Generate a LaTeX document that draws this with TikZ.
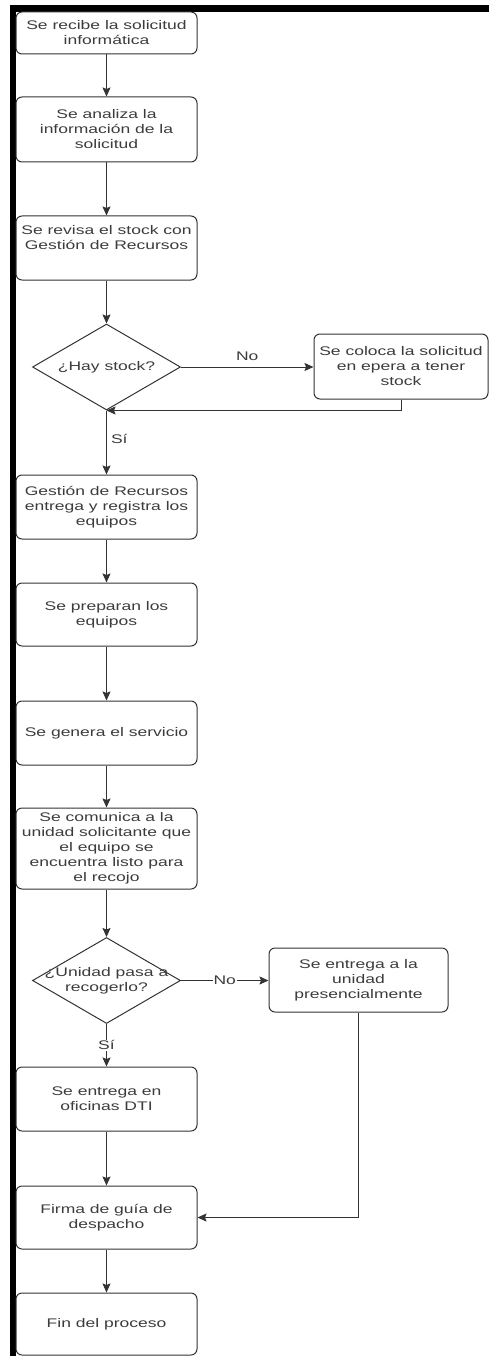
\documentclass[tikz,border=0pt]{standalone}
\usepackage{fontspec}
\newfontfamily\boxfont[FakeStretch=1.40]{Liberation Sans}
\usetikzlibrary{shapes.geometric,arrows.meta}
\definecolor{linegray}{HTML}{333333}
\definecolor{textgray}{HTML}{3C3C3C}
\begin{document}
\begin{tikzpicture}[x=1pt, y=-1pt,
  font=\boxfont\fontsize{12.5}{15}\selectfont, text=textgray,
  proc/.style={draw=linegray, line width=1pt, rounded corners=6pt, align=center,
    minimum width=181pt, inner sep=0pt},
  decision/.style={draw=linegray, line width=1pt, diamond, inner sep=0pt,
    minimum width=148pt, minimum height=86pt},
  flow/.style={draw=linegray, line width=1pt, -{Stealth[length=9pt, width=8pt, inset=1.5pt]}},
  tag/.style={inner sep=1pt, align=center}]
  \useasboundingbox (0,0) rectangle (489,1356);
  % marco negro
  \fill[black] (10,5) rectangle (489,12);
  \fill[black] (10,5) rectangle (16,1356);
  % columna principal
  \node[proc, minimum height=42pt] (recibe) at (106.5,33) {Se recibe la solicitud\\informática};
  \node[proc, minimum height=65pt] (analiza) at (106.5,129.5) {Se analiza la\\información de la\\solicitud};
  \node[proc, minimum height=64pt] (revisa) at (106.5,248) {Se revisa el stock con\\Gestión de Recursos\\[6pt]};
  \node[decision] (hay) at (106.5,367) {};
  \node[tag] (hayTxt) at (hay) {¿Hay stock?};
  \node[proc, minimum width=174pt, minimum height=65pt] (espera) at (401,366.5) {Se coloca la solicitud\\en epera a tener\\stock};
  \node[proc, minimum height=64pt] (entrega) at (106.5,507) {Gestión de Recursos\\entrega y registra los\\equipos};
  \node[proc, minimum height=63pt] (prepara) at (106.5,614.5) {Se preparan los\\equipos};
  \node[proc, minimum height=64pt] (genera) at (106.5,733) {Se genera el servicio};
  \node[proc, minimum height=81pt] (comunica) at (106.5,848.5) {Se comunica a la\\unidad solicitante que\\el equipo se\\encuentra listo para\\el recojo};
  \node[decision] (pasa) at (106.5,980.5) {};
  \node[tag] (pasaTxt) at (pasa) {¿Unidad pasa a\\recogerlo?};
  \node[proc, minimum width=179pt, minimum height=64pt] (presencial) at (358.5,980) {Se entrega a la\\unidad\\presencialmente};
  \node[proc, minimum height=64pt] (oficinas) at (106.5,1099) {Se entrega en\\oficinas DTI};
  \node[proc, minimum height=63pt] (firma) at (106.5,1217.5) {Firma de guía de\\despacho};
  \node[proc, minimum height=62pt] (fin) at (106.5,1324) {Fin del proceso};
  % conectores
  \draw[flow] (recibe) -- (analiza);
  \draw[flow] (analiza) -- (revisa);
  \draw[flow] (revisa) -- (hay);
  \draw[flow] (hay.east) -- (hay.east -| espera.west) node[tag, midway, above=5pt] (no1) {No};
  \draw[flow] (espera.south) |- (hay.south);
  \draw[flow] (hay.south) -- (entrega.north) node[tag, pos=0.45, right=3pt] (si1) {Sí};
  \draw[flow] (entrega) -- (prepara);
  \draw[flow] (prepara) -- (genera);
  \draw[flow] (genera) -- (comunica);
  \draw[flow] (comunica) -- (pasa);
  \draw[flow] (pasa.east) -- (pasa.east -| presencial.west) node[tag, fill=white, midway] (no2) {No};
  \draw[flow] (pasa.south) -- (oficinas.north) node[tag, fill=white, midway] (si2) {Sí};
  \draw[flow] (presencial.south) |- (firma.east);
  \draw[flow] (oficinas) -- (firma);
  \draw[flow] (firma) -- (fin);
\end{tikzpicture}
\end{document}
